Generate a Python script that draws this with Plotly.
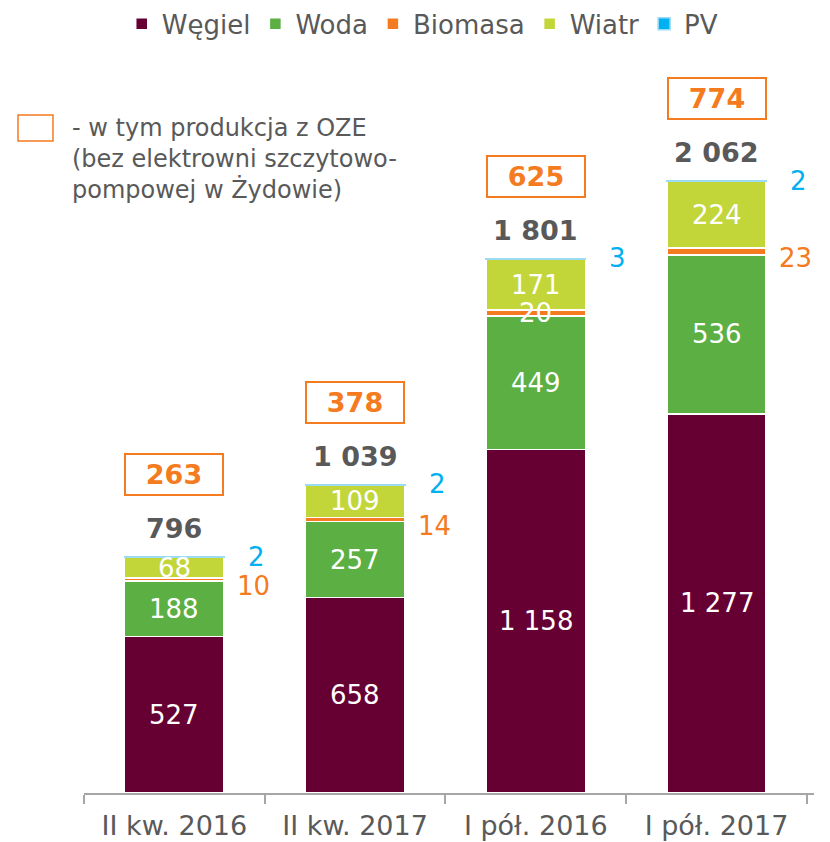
import plotly.graph_objects as go

categories = ["II kw. 2016", "II kw. 2017", "I pół. 2016", "I pół. 2017"]
wegiel = [527, 658, 1158, 1277]
woda = [188, 257, 449, 536]
biomasa = [10, 14, 20, 23]
wiatr = [68, 109, 171, 224]
pv = [2, 2, 3, 2]
totals = [796, 1039, 1801, 2062]
oze = [263, 378, 625, 774]
biomasa_inside = [False, False, True, False]

C_WEG = "#660033"
C_WOD = "#5BAF43"
C_BIO = "#F47B20"
C_WIA = "#C2D63A"
C_PV = "#00B0F0"
GRAY = "#595959"
FONT = "DejaVu Sans"


def fmt(v):
    return f"{v:,}".replace(",", " ")


fig = go.Figure()
series = [("Węgiel", wegiel, C_WEG), ("Woda", woda, C_WOD), ("Biomasa", biomasa, C_BIO),
          ("Wiatr", wiatr, C_WIA), ("PV", pv, C_PV)]
for name, vals, col in series:
    line_col = "#9ADCF5" if name == "PV" else "white"
    fig.add_trace(go.Bar(name=name, x=categories, y=vals, marker_color=col,
                         marker_line_color=line_col, marker_line_width=1.5,
                         hoverinfo="x+y+name"))

ann = []
for i, cat in enumerate(categories):
    base = 0
    top_stack = sum(s[1][i] for s in series)
    for name, vals, col in series:
        v = vals[i]
        mid = base + v / 2
        if name in ("Węgiel", "Woda", "Wiatr") or (name == "Biomasa" and biomasa_inside[i]):
            ann.append(dict(x=cat, y=mid, text=fmt(v), showarrow=False,
                            font=dict(family=FONT, size=26, color="white"), yanchor="middle"))
        elif name == "Biomasa":
            ann.append(dict(x=cat, y=mid, text=fmt(v), showarrow=False, xshift=79, yshift=-7,
                            font=dict(family=FONT, size=26, color=C_BIO), yanchor="middle"))
        else:
            ann.append(dict(x=cat, y=top_stack, text=fmt(v), showarrow=False, xshift=82,
                            font=dict(family=FONT, size=26, color=C_PV), yanchor="middle"))
        base += v
    ann.append(dict(x=cat, y=totals[i], text="<b>" + fmt(totals[i]) + "</b>", showarrow=False,
                    yshift=28, yanchor="middle",
                    font=dict(family=FONT, size=27, color=GRAY)))
    ann.append(dict(x=cat, y=totals[i], text="<b>" + fmt(oze[i]) + "</b>", showarrow=False,
                    yshift=82, yanchor="middle", bordercolor=C_BIO, borderwidth=2,
                    borderpad=2, width=92, height=35, bgcolor="white",
                    font=dict(family=FONT, size=27, color=C_BIO)))

ann.append(dict(xref="paper", yref="paper", x=-0.0192, y=0.905, xanchor="left", yanchor="top",
                align="left", showarrow=False,
                text="- w tym produkcja z OZE<br>(bez elektrowni szczytowo-<br>pompowej w Żydowie)",
                font=dict(family=FONT, size=24, color=GRAY)))

fig.update_layout(
    width=830, height=842,
    margin=dict(l=76, r=24, t=32, b=57, autoexpand=False),
    barmode="stack", bargap=0.45,
    paper_bgcolor="white", plot_bgcolor="white",
    font=dict(family=FONT, color=GRAY),
    showlegend=True,
    legend=dict(orientation="h", x=0.464, xanchor="center", y=1.0527, yanchor="top",
                font=dict(family=FONT, size=26, color=GRAY), traceorder="normal"),
    annotations=ann,
    shapes=[dict(type="rect", xref="paper", yref="paper", x0=-0.0904, x1=-0.0425,
                 y0=0.866, y1=0.9004, line=dict(color=C_BIO, width=1.5))],
    xaxis=dict(showline=True, linecolor="#A6A6A6", linewidth=1.5, ticks="outside",
               tickson="boundaries", ticklen=9, tickcolor="#A6A6A6", tickwidth=1.5,
               ticklabelstandoff=8,
               tickfont=dict(family=FONT, size=27, color=GRAY), showgrid=False),
    yaxis=dict(range=[0, 2537], visible=False, showgrid=False),
)

fig.write_html("out.html")
